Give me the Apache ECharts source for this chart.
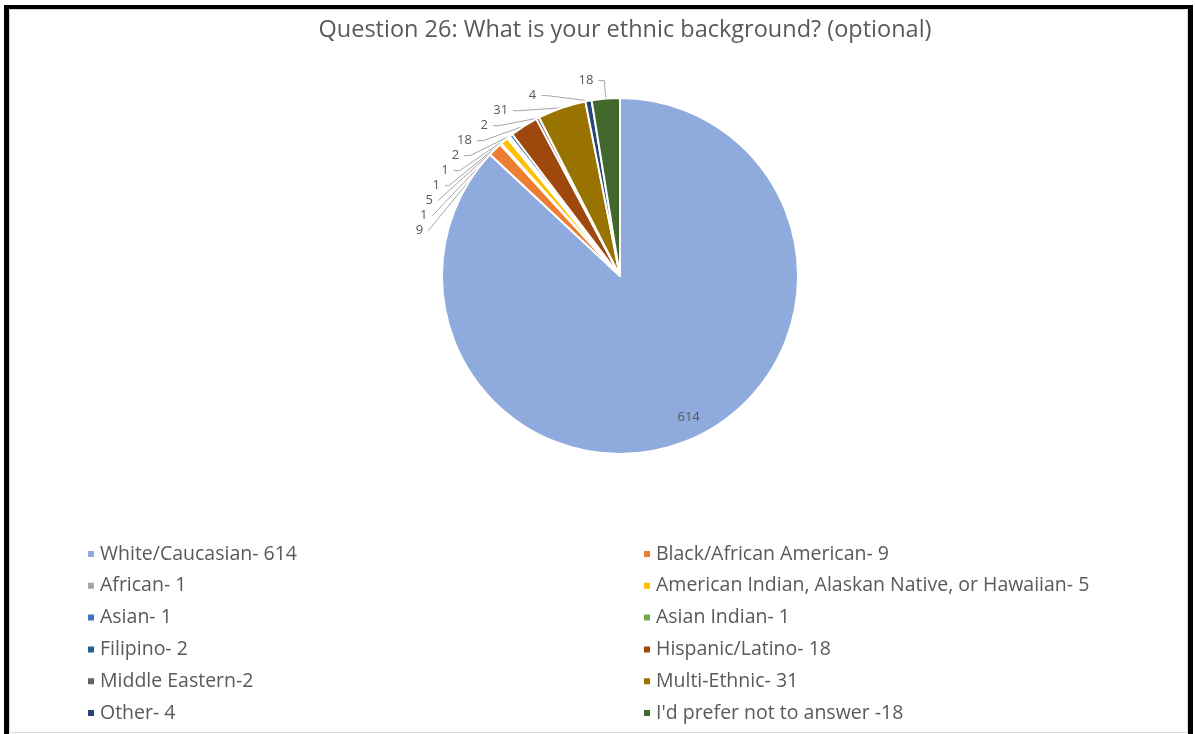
<!DOCTYPE html>
<html>
<head>
<meta charset="utf-8">
<style>
  html, body { margin: 0; padding: 0; background: #fff; }
  #frame {
    position: absolute; left: 4px; top: 5px; width: 1179px; height: 740px;
    border-left: 5px solid #000; border-top: 4px solid #000; border-right: 5px solid #000;
  }
  #main {
    position: absolute; left: 9px; top: 9px; width: 1177px; height: 722px;
    border: 1px solid #d9d9d9; background: #fff;
  }
</style>
<script src="https://cdn.jsdelivr.net/npm/echarts@6/dist/echarts.min.js"></script>
</head>
<body>
<div id="frame"></div>
<div id="main"></div>
<script>
var names = ["White/Caucasian- 614", "Black/African American- 9", "African- 1",
  "American Indian, Alaskan Native, or Hawaiian- 5", "Asian- 1", "Asian Indian- 1",
  "Filipino- 2", "Hispanic/Latino- 18", "Middle Eastern-2", "Multi-Ethnic- 31",
  "Other- 4", "I'd prefer not to answer -18"];
var values = [614, 9, 1, 5, 1, 1, 2, 18, 2, 31, 4, 18];
var colors = ["#8faadc", "#ed7d31", "#a5a5a5", "#ffc000", "#4472c4", "#70ad47",
  "#255e91", "#9e480e", "#636363", "#997300", "#264478", "#43682b"];

var font = "'Open Sans', 'Liberation Sans', sans-serif";
var textColor = "#595959";

var pieData = names.map(function (n, i) {
  var d = { name: n, value: values[i], itemStyle: { color: colors[i] } };
  if (i === 0) {
    d.label = { position: "inside", offset: [32, 57] };
    d.labelLine = { show: false };
  }
  return d;
});

var leftNames = names.filter(function (n, i) { return i % 2 === 0; });
var rightNames = names.filter(function (n, i) { return i % 2 === 1; });

var legendBase = {
  orient: "vertical",
  top: 529,
  height: 300,
  icon: "rect",
  itemWidth: 8,
  itemHeight: 8,
  itemGap: 11.8,
  textStyle: { fontFamily: font, fontSize: 19.5, color: textColor, lineHeight: 20 }
};

var chart = echarts.init(document.getElementById("main"));
chart.setOption({
  animation: false,
  title: {
    text: "Question 26: What is your ethnic background? (optional)",
    left: 610,
    textAlign: "center",
    top: 3,
    textStyle: { fontFamily: font, fontSize: 23.5, fontWeight: "normal", color: textColor }
  },
  legend: [
    Object.assign({}, legendBase, { left: 71, data: leftNames }),
    Object.assign({}, legendBase, { left: 627, data: rightNames })
  ],
  series: [{
    type: "pie",
    center: [610, 266],
    radius: [0, 178],
    startAngle: 90,
    clockwise: true,
    avoidLabelOverlap: true,
    itemStyle: { borderColor: "#fff", borderWidth: 2 },
    label: {
      show: true,
      formatter: "{c}",
      fontFamily: font,
      fontSize: 13,
      color: textColor
    },
    labelLine: {
      show: true,
      length: 18,
      length2: 6,
      lineStyle: { color: "#a6a6a6", width: 1 }
    },
    data: pieData
  }]
});
</script>
</body>
</html>
